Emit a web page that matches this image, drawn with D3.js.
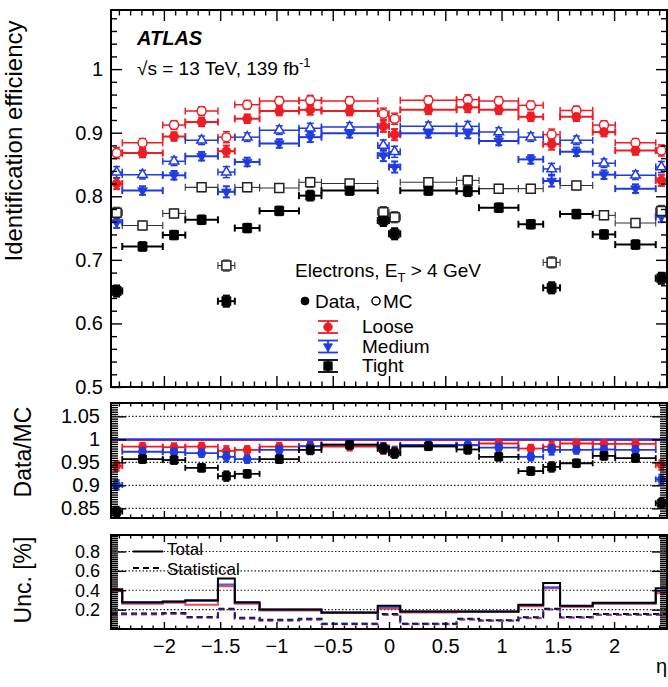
<!DOCTYPE html>
<html>
<head>
<meta charset="utf-8">
<script src="https://cdn.jsdelivr.net/npm/d3@7"></script>
<style>
  body { margin: 0; background: #fff; }
  svg { display: block; }
  text { font-family: "Liberation Sans", Arial, Helvetica, sans-serif; fill: #000; }
</style>
</head>
<body>
<svg id="chart" width="668" height="687"></svg>
<script>
// ---- eta binning ----
const etaEdges = [-2.47, -2.37, -2.01, -1.81, -1.52, -1.37, -1.15, -0.8, -0.6, -0.1, 0,
                  0.1, 0.6, 0.8, 1.15, 1.37, 1.52, 1.81, 2.01, 2.37, 2.47];

// ---- identification efficiencies (data and MC) ----
const looseData  = [0.820, 0.868, 0.894, 0.917, 0.871, 0.922, 0.934, 0.936, 0.934, 0.910,
                    0.897, 0.936, 0.940, 0.936, 0.925, 0.882, 0.925, 0.901, 0.872, 0.825];
const looseMC    = [0.868, 0.884, 0.912, 0.934, 0.893, 0.944, 0.950, 0.951, 0.950, 0.930,
                    0.922, 0.951, 0.952, 0.950, 0.943, 0.897, 0.935, 0.912, 0.884, 0.872];
const mediumData = [0.759, 0.809, 0.833, 0.863, 0.807, 0.854, 0.883, 0.893, 0.899, 0.864,
                    0.846, 0.899, 0.899, 0.887, 0.858, 0.824, 0.870, 0.834, 0.812, 0.768];
const mediumMC   = [0.838, 0.834, 0.855, 0.888, 0.838, 0.893, 0.904, 0.907, 0.909, 0.880,
                    0.870, 0.910, 0.910, 0.901, 0.893, 0.843, 0.888, 0.852, 0.833, 0.846];
const tightData  = [0.651, 0.721, 0.739, 0.763, 0.635, 0.750, 0.777, 0.801, 0.809, 0.762,
                    0.741, 0.809, 0.808, 0.782, 0.756, 0.656, 0.772, 0.740, 0.724, 0.671];
const tightMC    = [0.774, 0.754, 0.773, 0.814, 0.691, 0.814, 0.813, 0.822, 0.820, 0.775,
                    0.767, 0.822, 0.825, 0.812, 0.812, 0.696, 0.817, 0.770, 0.758, 0.777];
const effErr     = [0.004, 0.002, 0.002, 0.002, 0.004, 0.002, 0.002, 0.003, 0.002, 0.004,
                    0.004, 0.002, 0.003, 0.002, 0.002, 0.004, 0.002, 0.002, 0.002, 0.004];

// ---- data/MC scale factors ----
const looseRatio  = [0.942, 0.984, 0.983, 0.984, 0.975, 0.977, 0.984, 0.985, 0.984, 0.979,
                     0.974, 0.985, 0.987, 0.991, 0.980, 0.984, 0.991, 0.990, 0.990, 0.944];
const mediumRatio = [0.901, 0.973, 0.972, 0.970, 0.962, 0.957, 0.977, 0.985, 0.989, 0.982,
                     0.972, 0.988, 0.988, 0.982, 0.962, 0.977, 0.977, 0.978, 0.977, 0.913];
const tightRatio  = [0.843, 0.957, 0.955, 0.938, 0.920, 0.925, 0.957, 0.977, 0.988, 0.980,
                     0.970, 0.985, 0.978, 0.962, 0.931, 0.940, 0.948, 0.964, 0.959, 0.861];
const ratioErr    = [0.004, 0.002, 0.002, 0.002, 0.004, 0.002, 0.002, 0.003, 0.002, 0.004,
                     0.004, 0.002, 0.003, 0.002, 0.002, 0.004, 0.002, 0.002, 0.002, 0.004];

// ---- uncertainties on the scale factors [%] ----
const uncTotalLoose  = [0.39, 0.26, 0.27, 0.25, 0.44, 0.26, 0.19, 0.19, 0.165, 0.21,
                        0.21, 0.17, 0.175, 0.175, 0.235, 0.42, 0.23, 0.26, 0.26, 0.37];
const uncTotalMedium = [0.40, 0.27, 0.28, 0.29, 0.46, 0.27, 0.20, 0.20, 0.17, 0.225,
                        0.225, 0.18, 0.18, 0.18, 0.245, 0.43, 0.235, 0.265, 0.265, 0.39];
const uncTotalTight  = [0.41, 0.275, 0.285, 0.296, 0.52, 0.275, 0.20, 0.20, 0.17, 0.24,
                        0.24, 0.18, 0.18, 0.18, 0.25, 0.475, 0.24, 0.27, 0.27, 0.42];
const uncStatLoose   = [0.15, 0.15, 0.155, 0.115, 0.20, 0.105, 0.085, 0.095, 0.05, 0.145,
                        0.145, 0.05, 0.095, 0.085, 0.11, 0.20, 0.115, 0.145, 0.145, 0.145];
const uncStatMedium  = [0.155, 0.155, 0.16, 0.12, 0.205, 0.11, 0.09, 0.10, 0.055, 0.15,
                        0.15, 0.055, 0.10, 0.088, 0.115, 0.205, 0.12, 0.15, 0.15, 0.15];
const uncStatTight   = [0.16, 0.16, 0.165, 0.125, 0.21, 0.115, 0.095, 0.105, 0.055, 0.155,
                        0.155, 0.055, 0.105, 0.09, 0.12, 0.21, 0.125, 0.155, 0.155, 0.155];

// ---- axis ticks and labels ----
const xMajor = [-2, -1.5, -1, -0.5, 0, 0.5, 1, 1.5, 2];
const xTickLabels = ["\u22122", "\u22121.5", "\u22121", "\u22120.5", "0", "0.5", "1", "1.5", "2"];
const effTicks = [0.5, 0.6, 0.7, 0.8, 0.9, 1];
const effTickLabels = ["0.5", "0.6", "0.7", "0.8", "0.9", "1"];
const ratioTicks = [0.85, 0.9, 0.95, 1, 1.05];
const ratioTickLabels = ["0.85", "0.9", "0.95", "1", "1.05"];
const uncTicks = [0.2, 0.4, 0.6, 0.8];
const uncTickLabels = ["0.2", "0.4", "0.6", "0.8"];
const ratioGrid = [0.85, 0.9, 0.95, 1.05];
const uncGrid = [0.2, 0.4, 0.6, 0.8];

const RED = "#ee1c24";
const BLUE = "#1f3be0";
const BLACK = "#000000";

const svg = d3.select("#chart");
const L = 111, R = 667;
const x = d3.scaleLinear().domain([-2.47, 2.47]).range([L, R]);

const panels = {
  eff:   { top: 10,  bottom: 387, y: d3.scaleLinear().domain([0.5, 1.093]).range([387, 10]) },
  ratio: { top: 403, bottom: 518, y: d3.scaleLinear().domain([0.829, 1.079]).range([518, 403]) },
  unc:   { top: 535, bottom: 629, y: d3.scaleLinear().domain([0, 0.97]).range([629, 535]) }
};

const bins = etaEdges.slice(0, -1).map((lo, i) => ({ lo, hi: etaEdges[i + 1], c: (lo + etaEdges[i + 1]) / 2 }));

const xMinor = d3.range(-24, 25).map(v => v / 10).filter(v => Math.abs(v * 2 - Math.round(v * 2)) > 1e-6);

function styleAxis(g) {
  g.attr("font-size", null).attr("font-family", null);
  g.select(".domain").remove();
  g.selectAll(".tick line").attr("stroke", "#000").attr("stroke-width", 1.4);
}

function drawAxes(p, yMajor, yMinor, yLabels, sz, labelPad, fontSize, withXLabels) {
  const g = svg.append("g");
  // x ticks, bottom and top
  g.append("g").attr("transform", `translate(0,${p.bottom})`)
    .call(d3.axisBottom(x).tickValues(xMinor).tickSize(-sz.xMinor).tickSizeOuter(0).tickFormat(""))
    .call(styleAxis);
  g.append("g").attr("transform", `translate(0,${p.top})`)
    .call(d3.axisTop(x).tickValues(xMinor).tickSize(-sz.xMinor).tickSizeOuter(0).tickFormat(""))
    .call(styleAxis);
  g.append("g").attr("transform", `translate(0,${p.top})`)
    .call(d3.axisTop(x).tickValues(xMajor).tickSize(-sz.xMajor).tickSizeOuter(0).tickFormat(""))
    .call(styleAxis);
  const xb = g.append("g").attr("transform", `translate(0,${p.bottom})`)
    .call(d3.axisBottom(x).tickValues(xMajor).tickSize(-sz.xMajor).tickSizeOuter(0).tickPadding(10)
      .tickFormat((d, i) => withXLabels ? xTickLabels[i] : ""))
    .call(styleAxis);
  xb.selectAll("text").attr("font-size", 20);
  // y ticks, left and right
  g.append("g").attr("transform", `translate(${L},0)`)
    .call(d3.axisLeft(p.y).tickValues(yMinor).tickSize(-sz.yMinor).tickSizeOuter(0).tickFormat(""))
    .call(styleAxis);
  g.append("g").attr("transform", `translate(${R},0)`)
    .call(d3.axisRight(p.y).tickValues(yMinor).tickSize(-sz.yMinor).tickSizeOuter(0).tickFormat(""))
    .call(styleAxis);
  g.append("g").attr("transform", `translate(${R},0)`)
    .call(d3.axisRight(p.y).tickValues(yMajor).tickSize(-sz.yMajor).tickSizeOuter(0).tickFormat(""))
    .call(styleAxis);
  const yl = g.append("g").attr("transform", `translate(${L},0)`)
    .call(d3.axisLeft(p.y).tickValues(yMajor).tickSize(-sz.yMajor).tickSizeOuter(0).tickPadding(labelPad)
      .tickFormat((d, i) => yLabels[i]))
    .call(styleAxis);
  yl.selectAll("text").attr("font-size", fontSize);
  // frame
  svg.append("rect").attr("x", L).attr("y", p.top).attr("width", R - L).attr("height", p.bottom - p.top)
    .attr("fill", "none").attr("stroke", "#000").attr("stroke-width", 2);
}

function gridLines(p, vals) {
  svg.append("g").selectAll("line").data(vals).join("line")
    .attr("x1", L).attr("x2", R).attr("y1", d => p.y(d)).attr("y2", d => p.y(d))
    .attr("stroke", "#222").attr("stroke-width", 1.1).attr("stroke-dasharray", "1.5,2");
}

function symbolPath(type, size) {
  if (type === "circle") return d3.symbol(d3.symbolCircle, Math.PI * size * size / 4)();
  if (type === "square") return d3.symbol(d3.symbolSquare, size * size)();
  return d3.symbol(d3.symbolTriangle, size * size * 0.5)();
}

function drawMarker(g, type, filled, color, cx, cy, size) {
  const rot = (type === "triangle" && filled) ? 180 : 0;
  g.append("path").attr("d", symbolPath(type, size))
    .attr("transform", `translate(${cx},${cy}) rotate(${rot})`)
    .attr("fill", filled ? color : "#fff")
    .attr("stroke", color).attr("stroke-width", filled ? 0.8 : 1.5);
}

function errorBar(g, color, b, v, err, yScale, lw, cap) {
  const y0 = yScale(v);
  const x0 = x(b.lo), x1 = x(b.hi), xc = x(b.c);
  g.append("line").attr("x1", x0).attr("x2", x1).attr("y1", y0).attr("y2", y0)
    .attr("stroke", color).attr("stroke-width", lw);
  [x0, x1].forEach(xx => g.append("line").attr("x1", xx).attr("x2", xx)
    .attr("y1", y0 - cap).attr("y2", y0 + cap).attr("stroke", color).attr("stroke-width", lw));
  const ya = yScale(v - err), yb = yScale(v + err);
  g.append("line").attr("x1", xc).attr("x2", xc).attr("y1", ya + 3).attr("y2", yb - 3)
    .attr("stroke", color).attr("stroke-width", lw);
  [ya + 3, yb - 3].forEach(yy => g.append("line").attr("x1", xc - cap).attr("x2", xc + cap)
    .attr("y1", yy).attr("y2", yy).attr("stroke", color).attr("stroke-width", lw));
}

const series = [
  { name: "Loose",  color: RED,   data: looseData,  mc: looseMC,  ratio: looseRatio,  sym: "circle" },
  { name: "Medium", color: BLUE,  data: mediumData, mc: mediumMC, ratio: mediumRatio, sym: "triangle" },
  { name: "Tight",  color: BLACK, data: tightData,  mc: tightMC,  ratio: tightRatio,  sym: "square" }
];

// ================= efficiency panel =================
const pe = panels.eff;
const eg = svg.append("g");
series.forEach(s => {
  const mcLine = s.color === BLACK ? "#333" : s.color;
  bins.forEach((b, i) => errorBar(eg, mcLine, b, s.mc[i], effErr[i], pe.y, s.color === BLACK ? 1.1 : 1.5, 3.5));
  bins.forEach((b, i) => errorBar(eg, s.color, b, s.data[i], effErr[i], pe.y, 2, 3.5));
});
series.forEach(s => {
  bins.forEach((b, i) => drawMarker(eg, s.sym, false, s.color === BLACK ? "#222" : s.color, x(b.c), pe.y(s.mc[i]), 9));
  bins.forEach((b, i) => drawMarker(eg, s.sym, true, s.color, x(b.c), pe.y(s.data[i]), 9));
});
drawAxes(pe, effTicks, d3.range(26, 55).map(v => v / 50).filter(v => Math.abs(v * 10 - Math.round(v * 10)) > 1e-6),
  effTickLabels, { xMajor: 11, xMinor: 5.5, yMajor: 11, yMinor: 6 }, 8, 20, false);

// labels in the efficiency panel
svg.append("text").attr("x", 137).attr("y", 45).attr("font-size", 20)
  .attr("font-weight", "bold").attr("font-style", "italic").text("ATLAS");
const ecm = svg.append("text").attr("x", 137).attr("y", 75).attr("font-size", 19);
ecm.append("tspan").text("\u221As = 13 TeV, 139 fb");
ecm.append("tspan").attr("font-size", 13).attr("dy", -8).text("-1");

const el = svg.append("text").attr("x", 295).attr("y", 277).attr("font-size", 19);
el.append("tspan").text("Electrons, E");
el.append("tspan").attr("font-size", 13).attr("dy", 5).text("T");
el.append("tspan").attr("dy", -5).text(" > 4 GeV");

const lg = svg.append("g");
drawMarker(lg, "circle", true, BLACK, 305, 301, 8);
lg.append("text").attr("x", 315).attr("y", 308).attr("font-size", 19).text("Data,");
drawMarker(lg, "circle", false, BLACK, 376, 301, 8);
lg.append("text").attr("x", 383).attr("y", 308).attr("font-size", 19).text("MC");

series.forEach((s, i) => {
  const cy = 327 + i * 19.5;
  lg.append("line").attr("x1", 318).attr("x2", 338).attr("y1", cy - 6).attr("y2", cy - 6).attr("stroke", s.color).attr("stroke-width", 1.8);
  lg.append("line").attr("x1", 318).attr("x2", 338).attr("y1", cy + 6).attr("y2", cy + 6).attr("stroke", s.color).attr("stroke-width", 1.8);
  lg.append("line").attr("x1", 328).attr("x2", 328).attr("y1", cy - 6).attr("y2", cy + 6).attr("stroke", s.color).attr("stroke-width", 1.8);
  drawMarker(lg, s.sym, true, s.color, 328, cy, 8.5);
  lg.append("text").attr("x", 362).attr("y", cy + 6).attr("font-size", 19).text(s.name);
});

// ================= data/MC panel =================
const pr = panels.ratio;
gridLines(pr, ratioGrid);
const rg = svg.append("g");
rg.append("line").attr("x1", L).attr("x2", R).attr("y1", pr.y(1) + 1).attr("y2", pr.y(1) + 1)
  .attr("stroke", RED).attr("stroke-width", 1.5);
rg.append("line").attr("x1", L).attr("x2", R).attr("y1", pr.y(1)).attr("y2", pr.y(1))
  .attr("stroke", BLUE).attr("stroke-width", 2);
series.forEach(s => {
  bins.forEach((b, i) => errorBar(rg, s.color, b, s.ratio[i], ratioErr[i], pr.y, 1.8, 3));
  bins.forEach((b, i) => drawMarker(rg, s.sym === "triangle" ? "circle" : s.sym, true, s.color, x(b.c), pr.y(s.ratio[i]), 8));
});
drawAxes(pr, ratioTicks, d3.range(166, 216).map(v => v / 200).filter(v => Math.abs(v * 20 - Math.round(v * 20)) > 1e-6),
  ratioTickLabels, { xMajor: 7, xMinor: 3.5, yMajor: 15, yMinor: 7 }, 11, 20, false);

// ================= uncertainty panel =================
const pu = panels.unc;
gridLines(pu, uncGrid);
const ug = svg.append("g");
function stepPath(vals) {
  const pts = etaEdges.map((e, i) => [x(e), pu.y(vals[Math.min(i, vals.length - 1)])]);
  return d3.line().curve(d3.curveStepAfter)(pts);
}
const uncLines = [
  { v: uncStatLoose,   c: RED,   dash: "6,4", op: 0.8 },
  { v: uncStatTight,   c: BLACK, dash: "6,4", op: 1 },
  { v: uncStatMedium,  c: BLUE,  dash: "6,4", op: 0.6 },
  { v: uncTotalLoose,  c: RED,   dash: null,  op: 0.8 },
  { v: uncTotalMedium, c: BLUE,  dash: null,  op: 0.8 },
  { v: uncTotalTight,  c: BLACK, dash: null,  op: 1 }
];
uncLines.forEach(u => {
  ug.append("path").attr("d", stepPath(u.v)).attr("fill", "none")
    .attr("stroke", u.c).attr("stroke-width", 2).attr("stroke-opacity", u.op)
    .attr("stroke-dasharray", u.dash);
});
drawAxes(pu, uncTicks, d3.range(1, 49).map(v => v / 50).filter(v => Math.abs(v * 5 - Math.round(v * 5)) > 1e-6),
  uncTickLabels, { xMajor: 7, xMinor: 3.5, yMajor: 15, yMinor: 7 }, 11, 18, true);

// legend of the uncertainty panel
svg.append("line").attr("x1", 133).attr("x2", 163).attr("y1", 551.5).attr("y2", 551.5).attr("stroke", "#000").attr("stroke-width", 2);
svg.append("text").attr("x", 167).attr("y", 555).attr("font-size", 17).text("Total");
svg.append("line").attr("x1", 133).attr("x2", 163).attr("y1", 568).attr("y2", 568).attr("stroke", "#000").attr("stroke-width", 2).attr("stroke-dasharray", "6,4");
svg.append("text").attr("x", 167).attr("y", 575).attr("font-size", 17).text("Statistical");

// axis titles
svg.append("text").attr("transform", "translate(22,141) rotate(-90)").attr("text-anchor", "middle")
  .attr("font-size", 24).text("Identification efficiency");
svg.append("text").attr("transform", "translate(31,452) rotate(-90)").attr("text-anchor", "middle")
  .attr("font-size", 23).text("Data/MC");
svg.append("text").attr("transform", "translate(31,580) rotate(-90)").attr("text-anchor", "middle")
  .attr("font-size", 23).text("Unc. [%]");
svg.append("text").attr("x", 667).attr("y", 673).attr("text-anchor", "end").attr("font-size", 20).text("\u03B7");
</script>
</body>
</html>
